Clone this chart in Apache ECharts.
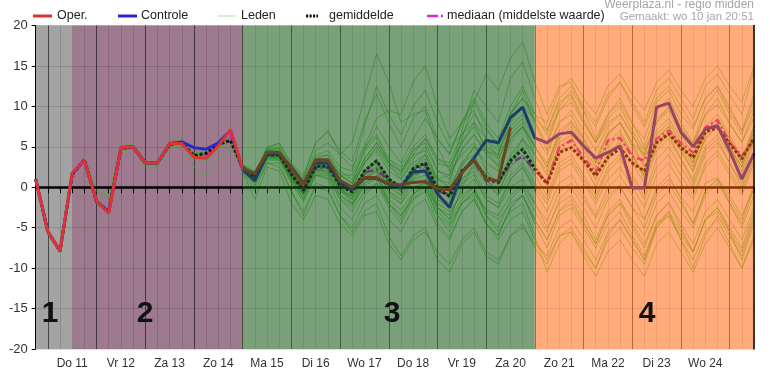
<!DOCTYPE html>
<html><head><meta charset="utf-8">
<script src="https://cdn.jsdelivr.net/npm/echarts@6/dist/echarts.min.js"></script>
<style>html,body{margin:0;padding:0;background:#fff}#c{width:770px;height:387px}</style>
</head><body><div id="c"></div>
<script>
// 6-hourly time steps
const categories = [
 'wo 10 18u',
 'do 11 00u','do 11 06u','do 11 12u','do 11 18u',
 'vr 12 00u','vr 12 06u','vr 12 12u','vr 12 18u',
 'za 13 00u','za 13 06u','za 13 12u','za 13 18u',
 'zo 14 00u','zo 14 06u','zo 14 12u','zo 14 18u',
 'ma 15 00u','ma 15 06u','ma 15 12u','ma 15 18u',
 'di 16 00u','di 16 06u','di 16 12u','di 16 18u',
 'wo 17 00u','wo 17 06u','wo 17 12u','wo 17 18u',
 'do 18 00u','do 18 06u','do 18 12u','do 18 18u',
 'vr 19 00u','vr 19 06u','vr 19 12u','vr 19 18u',
 'za 20 00u','za 20 06u','za 20 12u','za 20 18u',
 'zo 21 00u','zo 21 06u','zo 21 12u','zo 21 18u',
 'ma 22 00u','ma 22 06u','ma 22 12u','ma 22 18u',
 'di 23 00u','di 23 06u','di 23 12u','di 23 18u',
 'wo 24 00u','wo 24 06u','wo 24 12u','wo 24 18u',
 'do 25 00u','do 25 06u','do 25 12u'
];
const dayLabels = ['Do 11','Vr 12','Za 13','Zo 14','Ma 15','Di 16','Wo 17','Do 18','Vr 19','Za 20','Zo 21','Ma 22','Di 23','Wo 24'];
const yTicks = [-20,-15,-10,-5,0,5,10,15,20];

const oper = [1.0,-5.5,-7.9,1.8,3.3,-1.7,-3.2,4.9,5.0,3.0,3.0,5.4,5.4,3.7,3.6,5.1,7.1,
 2.3,1.7,4.3,4.3,2.4,0.4,3.4,3.4,0.8,0.0,1.2,1.2,0.4,0.3,0.6,0.7,-0.2,-0.3,1.8,3.4,1.0,0.8,7.4];
const controle = [1.0,-5.5,-7.9,1.7,3.3,-1.7,-3.1,4.9,5.0,3.0,3.0,5.4,5.6,4.9,4.7,5.5,7.0,
 2.2,0.8,4.1,4.1,2.5,0.5,3.0,3.0,0.5,-0.2,1.1,1.1,0.4,0.1,1.9,2.0,-0.8,-2.5,1.8,3.6,5.8,5.5,8.6,9.9,6.1,
 5.5,6.6,6.8,5.1,3.6,4.3,5.1,-0.1,-0.1,9.9,10.4,6.8,5.0,7.2,7.6,4.5,1.0,4.2];
const gemiddelde = [1.0,-5.5,-7.9,1.6,3.4,-1.8,-3.0,4.8,5.0,3.0,3.0,5.3,5.5,3.9,4.2,5.3,5.8,
 2.4,1.2,4.0,4.0,1.6,-0.4,2.6,2.6,0.2,-0.6,2.0,3.3,1.0,0.0,2.3,3.0,-0.2,-1.1,2.0,3.3,1.2,0.6,3.3,4.7,2.3,
 0.4,4.3,4.9,3.3,1.4,3.7,4.8,3.0,2.0,5.5,6.6,4.9,3.7,6.8,7.4,5.4,3.5,6.1];
const mediaan = [1.0,-5.5,-7.9,1.6,3.4,-1.8,-3.0,4.8,5.0,3.0,3.0,5.3,5.5,3.8,4.0,5.3,6.2,
 2.4,1.3,4.1,4.1,1.8,-0.2,2.4,2.4,0.4,-0.4,1.8,2.2,0.8,-0.2,2.0,2.8,-0.5,-0.9,2.0,3.2,0.8,0.5,3.0,3.8,2.1,
 0.6,4.9,5.8,3.7,1.8,5.8,6.1,3.8,3.3,6.0,7.0,5.4,4.3,7.4,8.3,5.5,3.9,5.8];
const leden = [
 [1.0,-5.4,-7.6,1.9,3.6,-1.5,-2.8,5.1,5.3,3.2,3.1,5.6,5.8,4.3,4.6,5.8,6.5,
  2.8,1.5,4.6,4.8,2.2,0.3,3.8,4.0,1.5,0.6,4.5,6.2,3.0,1.8,4.6,5.5,2.1,1.0,4.8,6.5,4.0,2.8,6.0,7.5,5.0,
  2.5,7.0,8.2,6.0,3.5,6.8,8.0,5.5,4.0,8.5,9.8,7.2,5.5,9.0,10.2,7.8,5.6,8.6],
 [1.0,-5.7,-8.1,1.4,3.1,-2.1,-3.3,4.5,4.7,2.6,2.6,5.0,5.1,3.4,3.6,4.8,5.5,
  2.0,0.7,3.4,3.3,0.8,-1.4,1.5,1.2,-1.4,-2.5,0.2,1.0,-1.5,-2.8,-0.8,0.0,-3.5,-4.8,-2.0,-0.6,-2.8,-3.5,-1.0,0.3,-2.0,
  -4.2,-0.5,0.5,-1.5,-3.8,-1.0,0.2,-2.5,-4.0,-0.5,1.0,-1.2,-3.0,0.5,1.2,-1.0,-3.5,-0.2],
 [1.0,-5.5,-7.8,1.7,3.5,-1.6,-2.9,5.0,5.1,3.1,3.2,5.5,5.6,4.0,4.4,5.5,6.2,
  2.6,1.6,5.0,5.4,2.8,1.2,5.5,6.8,4.5,3.2,8.0,11.5,8.0,5.0,8.5,10.0,6.0,4.2,8.0,10.5,7.5,5.0,9.2,11.0,8.2,
  5.2,9.5,11.2,8.0,5.6,9.0,10.5,7.8,6.0,10.5,12.0,9.0,7.2,11.0,12.5,9.5,7.0,10.0],
 [1.0,-5.6,-7.9,1.5,3.3,-1.9,-3.2,4.6,4.9,2.8,2.9,5.2,5.4,3.6,3.9,5.0,5.8,
  2.2,0.9,3.6,3.5,1.0,-1.0,1.8,1.6,-1.0,-2.2,0.5,1.2,-2.0,-3.5,-1.5,-0.5,-4.5,-6.2,-3.0,-1.5,-4.5,-6.0,-2.5,-1.0,-4.0,
  -6.5,-2.8,-1.5,-4.2,-7.0,-3.5,-2.0,-5.0,-7.5,-3.5,-1.8,-4.5,-7.0,-3.0,-1.5,-4.0,-6.5,-2.5],
 [1.0,-5.4,-7.7,1.8,3.5,-0.6,-1.2,5.0,5.2,3.3,3.0,5.4,5.7,4.1,4.4,5.6,6.3,
  2.7,1.8,4.8,5.0,2.5,1.0,4.5,5.5,4.0,5.5,11.0,16.5,13.0,8.0,9.0,9.5,5.0,2.0,4.0,5.5,2.0,0.5,4.0,6.0,3.0,
  0.5,5.5,6.5,3.0,0.0,3.5,6.0,4.0,1.5,6.0,7.5,4.5,2.0,6.5,8.0,5.0,2.5,7.0],
 [1.0,-5.5,-7.8,1.6,3.4,-1.7,-3.1,4.9,5.0,2.9,2.9,5.3,5.4,3.8,4.0,5.2,6.0,
  2.2,0.8,3.8,4.0,1.2,-0.8,2.0,2.5,0.0,-1.5,1.5,3.0,0.5,-1.0,2.5,4.0,1.0,0.5,6.0,10.5,14.0,12.0,16.0,18.0,13.0,
  9.0,12.5,13.0,9.5,6.0,9.0,11.0,8.0,5.0,9.5,11.0,8.0,5.5,10.0,12.0,9.0,6.5,11.0],
 [1.0,-5.6,-8.0,1.5,3.3,-1.9,-3.3,4.7,4.9,2.9,2.8,5.1,5.3,3.7,3.9,5.1,5.8,
  2.0,0.2,3.0,2.5,-0.5,-3.0,0.0,-0.5,-3.5,-5.5,-3.0,-2.0,-6.0,-8.5,-6.0,-5.0,-9.0,-10.5,-7.0,-5.5,-8.5,-9.5,-6.0,-4.5,-7.5,
  -9.5,-6.0,-5.0,-7.5,-10.0,-6.5,-5.0,-7.5,-9.5,-5.0,-3.5,-6.0,-8.0,-4.0,-3.0,-5.5,-8.0,-3.5],
 [1.0,-5.5,-7.9,1.7,3.5,-1.8,-2.9,4.9,5.1,3.1,3.0,5.4,5.6,3.5,3.3,4.8,5.6,
  2.8,2.0,4.5,4.5,2.0,0.0,3.0,3.5,1.5,0.5,3.5,5.5,3.5,2.5,5.0,6.5,3.5,2.5,5.5,8.0,6.0,4.5,7.5,9.0,6.5,
  4.0,8.0,9.5,7.0,4.5,7.5,9.0,6.5,4.0,8.0,10.0,7.5,5.0,9.0,11.0,8.0,5.5,9.5],
 [1.0,-5.5,-7.9,1.6,3.4,-1.8,-3.0,4.8,5.0,3.0,3.0,5.3,5.5,3.9,4.2,5.3,6.0,
  2.3,1.0,3.9,3.8,1.3,-0.8,2.2,2.0,-0.5,-1.5,1.0,2.0,-0.5,-1.5,1.5,2.0,-1.5,-2.5,0.5,1.5,-1.5,-2.5,0.0,1.0,-2.0,
  -5.0,-2.0,-1.0,-3.5,-6.5,-3.0,-1.5,-4.5,-7.0,-3.5,-2.0,-5.0,-8.0,-4.0,-2.5,-5.5,-9.0,-4.5],
 [1.0,-5.4,-7.8,1.7,3.4,-1.7,-2.9,4.8,5.0,3.0,3.1,5.3,5.5,3.9,4.1,5.2,5.9,
  2.4,1.4,4.2,4.2,1.8,-0.2,2.8,2.8,0.4,-0.5,2.0,3.0,0.5,-0.5,1.5,2.0,-2.5,-4.0,-1.5,0.0,-3.5,-5.5,-3.0,-2.0,-6.0,
  -10.5,-7.0,-5.5,-8.0,-10.0,-6.0,-4.0,-6.5,-9.0,-5.0,-3.0,-6.5,-10.0,-6.0,-3.5,-6.0,-8.5,-4.0],
 [1.0,-5.5,-7.9,1.6,3.3,-1.8,-3.1,4.8,4.9,3.0,2.9,5.2,5.4,3.9,4.3,5.4,6.1,
  2.5,1.3,4.1,4.2,1.8,-0.1,3.0,3.2,1.0,0.2,3.0,4.5,2.0,1.0,3.5,5.0,2.0,1.5,4.5,6.5,4.5,3.5,7.0,8.5,6.0,
  5.5,10.0,12.0,9.5,7.5,11.0,13.0,10.5,8.0,12.0,13.5,11.0,8.5,12.5,14.0,11.5,9.0,14.5],
 [1.0,-5.5,-7.9,1.6,3.4,-1.8,-3.0,4.8,5.0,3.0,3.0,5.3,5.5,2.5,1.5,3.5,5.0,
  2.0,0.5,3.5,3.5,0.5,-1.8,1.5,1.5,-1.5,-3.0,-0.5,0.5,-2.0,-3.5,-1.0,0.5,-2.5,-3.5,-0.5,1.0,-1.5,-2.5,1.0,2.5,0.0,
  -2.0,2.0,3.0,0.5,-2.0,1.0,2.5,0.0,-2.5,1.5,3.0,0.5,-1.5,2.5,4.0,1.5,-1.0,3.0],
 [1.0,-5.5,-7.9,1.6,3.4,-1.8,-3.0,4.8,5.0,3.0,3.0,5.3,5.5,3.9,4.2,5.3,6.0,
  2.6,1.8,4.6,4.8,2.4,0.8,4.0,4.5,2.5,2.0,7.5,12.5,9.0,6.5,10.0,12.0,8.0,5.0,6.5,8.0,4.5,2.5,6.0,7.5,4.0,
  1.5,5.0,6.0,3.5,1.0,4.0,5.5,3.0,0.5,4.5,6.0,3.5,1.0,5.0,6.5,4.0,1.5,5.5],
 [1.0,-5.6,-8.0,1.5,3.3,-1.9,-3.1,4.7,4.9,2.9,2.9,5.2,5.4,3.8,4.1,5.2,5.9,
  2.1,0.9,3.7,3.6,1.0,-1.0,2.0,1.8,-1.0,-2.0,0.5,1.5,-1.0,-2.0,1.0,2.5,0.0,-0.5,3.0,5.0,3.0,2.0,5.5,7.5,5.0,
  3.0,6.5,7.0,4.5,2.0,5.0,6.5,4.0,1.5,5.5,7.0,4.5,2.0,6.0,7.5,5.0,2.5,6.5],
 [1.0,-5.5,-7.9,1.7,3.5,-1.8,-3.0,4.9,5.1,3.1,3.0,5.4,5.6,4.0,4.3,5.4,6.1,
  2.5,1.1,3.9,3.9,1.5,-0.5,2.5,2.5,0.0,-1.0,1.5,2.5,0.0,-1.0,1.0,1.5,-2.0,-3.0,-1.0,0.0,-3.0,-4.0,-2.0,-1.0,-4.0,
  -6.5,-3.0,-2.0,-4.5,-7.0,-3.5,-2.0,-4.0,-6.0,-2.0,-0.5,-3.0,-5.0,-1.0,0.5,-2.0,-4.5,0.0],
 [1.0,-5.5,-7.9,1.6,3.4,-0.4,-1.0,4.8,5.0,3.0,3.0,5.3,5.5,3.9,4.2,5.3,6.0,
  2.3,1.4,4.3,4.3,2.0,0.3,3.5,4.0,2.0,1.0,4.5,7.5,5.0,3.0,6.0,8.5,6.0,4.0,8.0,11.0,8.0,6.0,10.0,12.5,9.0,
  6.5,9.5,10.5,8.0,5.5,8.5,10.0,7.0,4.5,8.0,9.5,6.5,4.0,7.5,9.0,6.5,3.5,7.5],
 [1.0,-5.5,-7.9,1.6,3.4,-1.8,-3.0,4.8,5.0,3.0,3.0,5.3,5.5,3.9,4.2,5.3,6.0,
  2.4,1.2,4.0,4.0,1.6,-0.4,2.6,2.6,0.2,-0.6,2.0,3.3,1.0,0.0,2.5,3.5,0.0,-1.0,2.0,3.5,1.5,0.5,3.5,5.0,2.5,
  0.5,4.5,5.0,3.5,1.5,4.0,5.0,3.0,2.0,5.5,6.5,5.0,3.5,7.0,7.5,5.5,3.5,6.0],
 [1.0,-5.5,-7.9,1.6,3.4,-1.8,-3.0,4.8,5.0,3.0,3.0,5.3,5.5,3.9,4.2,5.3,6.0,
  2.0,-0.5,3.0,3.0,-0.5,-3.5,0.5,0.0,-3.5,-5.0,-2.0,-1.0,-4.0,-5.5,-2.5,-1.5,-5.0,-6.5,-3.0,-1.5,-4.5,-6.0,-2.5,-1.0,-4.5,
  -7.5,-3.5,-2.5,-5.0,-7.5,-4.5,-3.0,-6.0,-8.5,-4.5,-3.5,-6.5,-9.0,-5.5,-4.0,-7.0,-10.0,-6.0],
 [1.0,-5.5,-7.9,1.6,3.4,-1.8,-3.0,4.8,5.0,3.0,3.0,5.3,5.5,3.9,4.2,5.3,6.0,
  2.4,1.2,4.0,4.0,1.6,-0.4,2.6,2.6,0.2,-0.6,2.0,3.3,1.0,0.0,2.3,3.0,1.0,1.5,7.0,12.0,10.0,8.0,13.5,15.5,11.0,
  7.0,10.5,11.5,8.5,5.5,8.0,9.0,6.5,3.5,7.0,8.5,6.0,3.0,7.0,8.5,6.0,3.0,7.5],
 [1.0,-5.5,-7.9,1.6,3.4,-1.8,-3.0,4.8,5.0,3.0,3.0,5.3,5.5,3.9,4.2,5.3,6.0,
  2.3,1.0,3.8,3.8,1.2,-1.5,1.5,1.0,-2.5,-4.0,-1.0,0.5,-2.5,-4.5,-1.5,0.0,-3.5,-5.5,-2.0,-0.5,-3.5,-5.0,-1.5,0.0,-3.0,
  -5.5,-1.5,0.0,-2.5,-5.0,-1.5,0.0,-2.5,-5.0,-1.0,0.5,-2.0,-4.5,-0.5,1.0,-1.5,-4.0,0.5],
 [1.0,-5.5,-7.9,1.6,3.4,-1.8,-3.0,4.8,5.0,3.0,3.0,5.3,5.5,3.9,4.2,5.3,6.0,
  2.6,1.5,4.8,5.5,3.0,1.5,5.5,7.0,4.0,2.5,5.0,6.5,3.5,2.0,4.0,4.5,1.0,0.0,3.0,4.0,1.0,-0.5,2.5,4.0,1.5,
  -1.0,3.0,4.0,1.5,-1.0,2.5,4.0,1.5,-1.0,3.5,5.0,2.5,0.0,4.0,5.5,3.0,0.5,4.5],
 [1.0,-5.5,-7.9,1.6,3.4,-1.8,-3.0,4.8,5.0,3.0,3.0,5.3,5.5,3.9,4.2,5.3,6.0,
  2.5,1.3,4.2,4.3,2.0,0.2,3.0,3.5,1.5,0.5,3.5,5.5,3.0,2.0,4.5,6.0,3.0,2.5,5.5,7.5,5.0,4.0,8.0,10.0,8.5,
  7.0,11.0,12.5,10.0,8.0,11.5,13.0,10.0,7.5,11.0,12.5,10.0,7.5,11.0,12.5,10.0,7.0,11.5],
 [1.0,-5.6,-8.0,1.5,3.3,-1.9,-3.1,4.7,4.9,2.9,2.9,5.2,5.4,3.8,4.1,5.2,5.9,
  1.8,-1.5,2.5,2.0,-2.0,-4.0,-1.0,-1.5,-4.5,-6.0,-3.5,-3.0,-7.0,-9.0,-6.5,-5.5,-8.0,-9.5,-6.5,-5.0,-8.0,-9.0,-6.0,-5.0,-7.0,
  -8.5,-5.0,-4.0,-6.5,-9.0,-5.5,-4.0,-6.5,-9.0,-4.5,-3.0,-5.5,-8.0,-4.0,-2.5,-5.0,-7.5,-3.0],
 [1.0,-5.5,-7.9,1.6,3.4,-1.8,-3.0,4.8,5.0,3.0,3.0,5.3,5.5,3.9,4.2,5.3,6.0,
  2.4,1.2,4.0,4.2,1.8,0.0,3.0,3.5,1.5,1.5,5.0,8.5,9.5,9.0,13.0,15.0,10.0,6.0,8.0,9.5,6.0,3.5,6.5,8.0,5.0,
  2.5,6.5,8.0,5.5,3.0,6.5,8.0,5.0,2.5,6.0,7.5,5.0,2.5,6.0,7.5,5.0,2.0,6.0],
 [1.0,-5.5,-7.9,1.6,3.4,-1.8,-3.0,4.8,5.0,3.0,3.0,5.3,5.5,3.9,4.2,5.3,6.0,
  2.2,1.0,3.8,3.7,1.4,-0.6,2.2,2.0,-0.5,-1.0,1.5,2.5,0.5,-0.5,1.5,2.5,-1.0,-2.0,1.0,2.5,0.5,-1.0,1.5,3.0,0.5,
  -1.5,2.5,3.5,1.0,-1.5,2.0,3.5,1.0,-1.5,2.5,4.0,1.5,-1.0,3.0,4.5,2.0,-0.5,3.5],
 [1.0,-5.5,-7.9,1.6,3.4,-1.8,-3.0,4.8,5.0,3.0,3.0,5.3,5.5,3.9,4.2,5.3,6.0,
  2.5,1.4,4.4,4.4,2.0,0.0,3.2,3.4,1.0,0.0,3.0,5.0,2.5,1.5,4.0,6.0,3.5,3.0,6.5,9.0,7.0,5.5,9.0,11.0,9.0,
  8.0,12.0,13.5,11.0,9.0,12.5,14.0,11.5,9.5,13.0,14.5,12.0,10.0,13.5,15.0,12.5,10.5,15.0],
 [1.0,-5.5,-7.9,1.6,3.4,-1.8,-3.0,4.8,5.0,3.0,3.0,5.3,5.5,3.9,4.2,5.3,6.0,
  2.3,1.1,3.9,3.9,1.4,-0.6,2.4,2.2,-0.3,-1.2,1.2,2.2,-0.5,-2.0,0.0,0.5,-3.0,-4.5,-2.0,-1.0,-4.5,-6.5,-4.0,-3.0,-6.5,
  -9.0,-6.0,-5.5,-8.5,-11.0,-8.0,-6.5,-9.0,-11.0,-7.0,-5.5,-8.0,-10.5,-7.0,-5.0,-7.5,-10.0,-6.5],
 [1.0,-5.5,-7.9,1.6,3.4,-1.8,-3.0,4.8,5.0,3.0,3.0,5.3,5.5,3.9,4.2,5.3,6.0,
  2.5,1.5,4.5,4.5,2.0,-0.2,2.5,3.0,0.0,-2.0,1.0,2.0,-2.0,-4.0,-1.0,1.0,-2.5,-4.0,0.0,3.0,1.0,-1.0,3.0,6.0,4.0,
  2.0,6.0,7.5,5.0,2.5,5.5,7.0,4.0,1.0,5.0,6.5,3.5,0.5,4.5,6.0,3.0,0.0,4.0],
 [1.0,-5.5,-7.9,1.6,3.4,-1.8,-3.0,4.8,5.0,3.0,3.0,5.3,5.5,3.9,4.2,5.3,6.0,
  2.4,1.3,4.1,4.1,1.7,-0.3,2.7,2.8,0.5,0.0,3.0,5.0,3.0,1.0,3.0,4.0,0.5,-1.5,1.0,2.0,-1.0,-2.0,1.0,2.5,-0.5,
  -3.0,0.5,1.5,-1.0,-3.5,0.0,1.5,-1.0,-4.0,0.0,1.5,-1.5,-4.5,-0.5,1.0,-2.0,-5.0,-1.0],
 [1.0,-5.5,-7.9,1.6,3.4,-1.8,-3.0,4.8,5.0,3.0,3.0,5.3,5.5,3.9,4.2,5.3,6.0,
  2.4,1.2,4.0,4.0,1.6,-0.4,2.6,2.6,0.2,-0.6,2.0,3.3,1.0,0.0,2.3,3.0,-0.5,-1.0,2.5,5.0,4.5,4.0,9.0,12.0,8.0,
  4.5,8.0,9.0,6.0,3.0,6.5,8.0,5.5,2.5,6.5,8.0,5.5,3.0,7.0,8.5,6.0,3.0,7.0]
];
// periods (1..4) as category boundaries
const periodStart = [0, 3, 17, 41];
const periodEnd = [3, 17, 41, 59];
const periodNames = ['1','2','3','4'];

const F = "'Liberation Sans', Arial, sans-serif";
const chart = echarts.init(document.getElementById('c'), null, {renderer:'canvas'});

const series = [];
// bands drawn behind the lines (period 1 and 2)
series.push({
  type:'line', data:[], z:0, silent:true,
  markArea:{silent:true, z:0, data:[
    [{xAxis:categories[periodStart[0]], itemStyle:{color:'#a3a3a3', opacity:1}}, {xAxis:categories[periodEnd[0]]}],
    [{xAxis:categories[periodStart[1]], itemStyle:{color:'#9d7a8e', opacity:1}}, {xAxis:categories[periodEnd[1]]}]
  ]}
});
leden.forEach((d,k)=>{
  series.push({type:'line', name:'Leden', data:d, z:2, silent:true, symbol:'none', showSymbol:false,
    lineStyle:{color:'rgba(50,190,30,0.5)', width:1}});
});
series.push({type:'line', data:[], z:3, silent:true,
  markLine:{silent:true, z:3, symbol:'none', label:{show:false}, lineStyle:{color:'#000', width:2.5, type:'solid'}, data:[{yAxis:0}]}});
series.push({type:'line', name:'mediaan', data:mediaan, z:4, silent:true, symbol:'none',
  lineStyle:{color:'#e020e0', width:2.5, type:[7,3,2,3]}});
series.push({type:'line', name:'gemiddelde', data:gemiddelde, z:5, silent:true, symbol:'none',
  lineStyle:{color:'#111', width:3, type:[3,2]}});
series.push({type:'line', name:'Controle', data:controle, z:6, silent:true, symbol:'none',
  lineStyle:{color:'#2828d2', width:3}});
series.push({type:'line', name:'Oper.', data:oper, z:7, silent:true, symbol:'none',
  lineStyle:{color:'#dd3333', width:3}});
// translucent overlays (period 3 and 4) above the lines
series.push({
  type:'line', data:[], z:20, silent:true,
  markArea:{silent:true, z:20, data:[
    [{xAxis:categories[periodStart[2]], itemStyle:{color:'rgba(13,82,13,0.55)', opacity:1}}, {xAxis:categories[periodEnd[2]]}],
    [{xAxis:categories[periodStart[3]], itemStyle:{color:'rgba(255,96,0,0.52)', opacity:1}}, {xAxis:categories[periodEnd[3]]}]
  ]}
});

const txt = (x,y,t,opt) => Object.assign({type:'text', x:x, y:y, zlevel:2, z:100,
  style:Object.assign({text:t, font:'12.5px '+F, fill:'#222', verticalAlign:'middle', textVerticalAlign:'middle'}, opt||{})});
const ln = (x1,y1,x2,y2,st) => ({type:'line', zlevel:2, z:100, shape:{x1,y1,x2,y2}, style:st});

const option = {
  animation:false,
  grid:{left:35.7, right:16, top:25.5, bottom:38},
  xAxis:[{
    type:'category', data:categories, boundaryGap:false, z:1,
    axisLine:{lineStyle:{color:'#000'}},
    axisTick:{interval:0, length:6, lineStyle:{color:'#000'}},
    axisLabel:{interval:(i)=> i%4===3 && i<=55, formatter:(v,i)=> dayLabels[(i-3)/4],
      color:'#333', fontSize:12, fontFamily:F, margin:9},
    splitLine:{show:true, interval:0, lineStyle:{color:'rgba(0,0,0,0.13)', width:1}}
  },{
    type:'category', data:categories, boundaryGap:false, z:1,
    axisLine:{show:false}, axisTick:{show:false}, axisLabel:{show:false},
    splitLine:{show:true, interval:(i)=> i%4===1, lineStyle:{color:'rgba(0,0,0,0.5)', width:1}}
  }],
  yAxis:[{
    type:'value', min:yTicks[0], max:yTicks[yTicks.length-1], interval:5, z:1,
    axisLine:{show:true, lineStyle:{color:'#000'}},
    axisTick:{show:true, length:4, lineStyle:{color:'#000'}},
    axisLabel:{color:'#333', fontSize:13, fontFamily:F, margin:8},
    splitLine:{show:true, lineStyle:{color:'rgba(0,0,0,0.13)'}}
  },{
    type:'value', min:yTicks[0], max:yTicks[yTicks.length-1], interval:5, position:'right', zlevel:2, z:11,
    axisLine:{show:true, lineStyle:{color:'#000', width:1.5}},
    axisTick:{show:false}, axisLabel:{show:false}, splitLine:{show:false}
  }],
  series:series,
  graphic:[
    ln(33,16,52,16,{stroke:'#dd3333', lineWidth:3}),
    txt(57,16,'Oper.'),
    ln(118,16,137,16,{stroke:'#2828d2', lineWidth:3}),
    txt(141,16,'Controle'),
    ln(218,16,236,16,{stroke:'rgba(60,180,40,0.42)', lineWidth:1}),
    txt(241,16,'Leden'),
    ln(306,16,318,16,{stroke:'#111', lineWidth:3, lineDash:[2.2,1.3]}),
    txt(329,16,'gemiddelde'),
    ln(427,16,438,16,{stroke:'#e020e0', lineWidth:2.5}),
    ln(441,16,443,16,{stroke:'#e020e0', lineWidth:2.5}),
    txt(447,16,'mediaan (middelste waarde)'),
    txt(754,5,'Weerplaza.nl - regio midden',{font:'12px '+F, fill:'#a6a6a6', align:'right', textAlign:'right'}),
    txt(754,17,'Gemaakt: wo 10 jan 20:51',{font:'11.5px '+F, fill:'#a6a6a6', align:'right', textAlign:'right'}),
    txt(50,314,periodNames[0],{font:'bold 30px '+F, fill:'#111', align:'center', textAlign:'center'}),
    txt(145,314,periodNames[1],{font:'bold 30px '+F, fill:'#111', align:'center', textAlign:'center'}),
    txt(392,314,periodNames[2],{font:'bold 30px '+F, fill:'#111', align:'center', textAlign:'center'}),
    txt(647,314,periodNames[3],{font:'bold 30px '+F, fill:'#111', align:'center', textAlign:'center'})
  ]
};
chart.setOption(option);
</script></body></html>
